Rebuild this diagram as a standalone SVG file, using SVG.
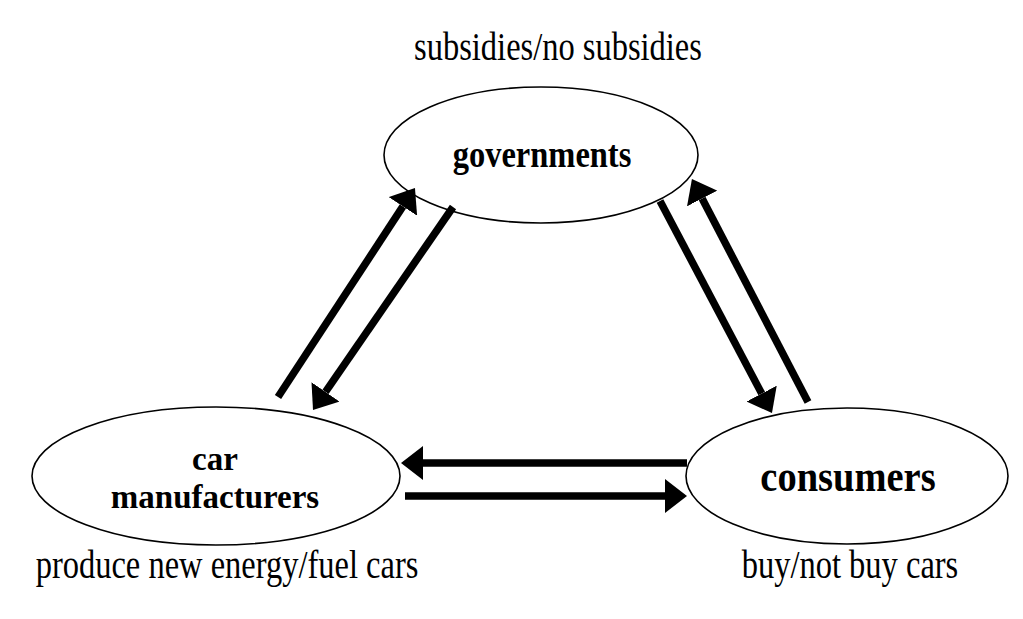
<svg xmlns="http://www.w3.org/2000/svg" width="1023" height="619" viewBox="0 0 1023 619">
<defs>
<marker id="ah" markerUnits="userSpaceOnUse" markerWidth="22" markerHeight="34" viewBox="0 0 22 34" refX="0" refY="17" orient="auto">
<path d="M0,0 L22,17 L0,34 z" fill="#000"/>
</marker>
<style>
.node ellipse{fill:#fff;stroke:#000;stroke-width:1.6}
.lbl{font-family:"Liberation Serif","Times New Roman",serif;font-weight:bold;fill:#000;text-anchor:middle}
.cap{font-family:"Liberation Serif","Times New Roman",serif;font-size:32.5px;fill:#000;text-anchor:middle}
#connectors line{stroke:#000;stroke-width:7.5;marker-end:url(#ah)}
</style>
</defs>
<rect width="1023" height="619" fill="#fff"/>
<g id="governments" class="node">
<ellipse cx="541" cy="155" rx="157" ry="68"/>
<text class="lbl" transform="translate(542,167) scale(1,1.15)" font-size="32.5">governments</text>
<text class="cap" transform="translate(558,60) scale(1,1.2)">subsidies/no subsidies</text>
</g>
<g id="car-manufacturers" class="node">
<ellipse cx="216" cy="476" rx="184" ry="69"/>
<text class="lbl" x="215" y="470" font-size="33">car</text>
<text class="lbl" x="215" y="508" font-size="33">manufacturers</text>
<text class="cap" transform="translate(227,578) scale(1,1.2)">produce new energy/fuel cars</text>
</g>
<g id="consumers" class="node">
<ellipse cx="847" cy="476" rx="161" ry="68"/>
<text class="lbl" transform="translate(848,491) scale(1,1.15)" font-size="38.5">consumers</text>
<text class="cap" transform="translate(850,578) scale(1,1.2)">buy/not buy cars</text>
</g>
<g id="connectors">
<line x1="278" y1="397" x2="402.9" y2="206.4"/>
<line x1="453" y1="207" x2="325.5" y2="391.9"/>
<line x1="660" y1="201" x2="761.7" y2="393.6"/>
<line x1="808" y1="402" x2="702.1" y2="198.5"/>
<line x1="687" y1="463" x2="423" y2="463"/>
<line x1="405" y1="496" x2="665" y2="496"/>
</g>
</svg>
